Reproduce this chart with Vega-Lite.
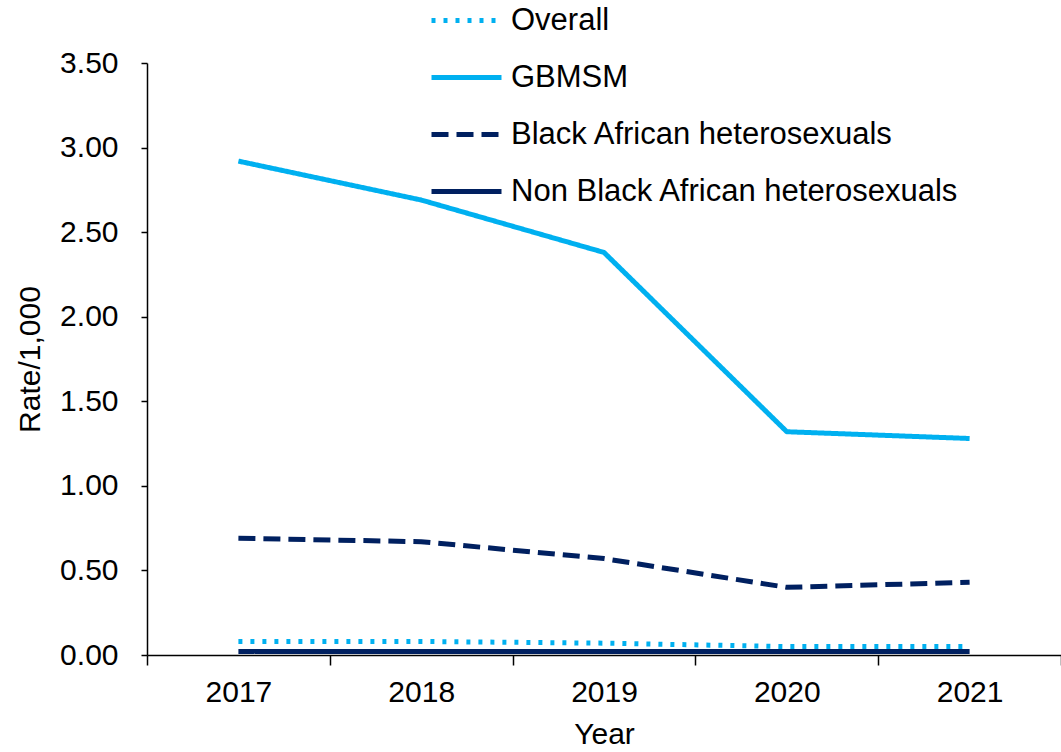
{
  "$schema": "https://vega.github.io/schema/vega-lite/v6.json",
  "autosize": {"type": "none"},
  "width": 914,
  "height": 592,
  "padding": {"left": 147, "top": 63, "right": 0, "bottom": 97},
  "background": "white",
  "config": {
    "font": "Liberation Sans",
    "view": {"stroke": null},
    "axis": {"grid": false, "domainColor": "#000000", "tickColor": "#000000", "labelColor": "#000000", "titleColor": "#000000", "labelFont": "Liberation Sans", "titleFont": "Liberation Sans", "titleFontWeight": "normal", "labelFontSize": 30, "titleFontSize": 30, "domainWidth": 1.5, "tickWidth": 1.5}
  },
  "data": {
    "values": [
      {"year": "2017", "series": "Overall", "rate": 0.08},
      {"year": "2018", "series": "Overall", "rate": 0.08},
      {"year": "2019", "series": "Overall", "rate": 0.07},
      {"year": "2020", "series": "Overall", "rate": 0.05},
      {"year": "2021", "series": "Overall", "rate": 0.05},
      {"year": "2017", "series": "GBMSM", "rate": 2.92},
      {"year": "2018", "series": "GBMSM", "rate": 2.69},
      {"year": "2019", "series": "GBMSM", "rate": 2.38},
      {"year": "2020", "series": "GBMSM", "rate": 1.32},
      {"year": "2021", "series": "GBMSM", "rate": 1.28},
      {"year": "2017", "series": "Black African heterosexuals", "rate": 0.69},
      {"year": "2018", "series": "Black African heterosexuals", "rate": 0.67},
      {"year": "2019", "series": "Black African heterosexuals", "rate": 0.57},
      {"year": "2020", "series": "Black African heterosexuals", "rate": 0.40},
      {"year": "2021", "series": "Black African heterosexuals", "rate": 0.43},
      {"year": "2017", "series": "Non Black African heterosexuals", "rate": 0.02},
      {"year": "2018", "series": "Non Black African heterosexuals", "rate": 0.02},
      {"year": "2019", "series": "Non Black African heterosexuals", "rate": 0.02},
      {"year": "2020", "series": "Non Black African heterosexuals", "rate": 0.02},
      {"year": "2021", "series": "Non Black African heterosexuals", "rate": 0.02}
    ]
  },
  "mark": {"type": "line", "strokeWidth": 5, "strokeCap": "butt", "strokeJoin": "round"},
  "encoding": {
    "x": {
      "field": "year", "type": "ordinal",
      "scale": {"type": "band", "paddingInner": 0, "paddingOuter": 0},
      "axis": {"title": "Year", "labelAngle": 0, "tickBand": "extent", "tickSize": 10, "labelPadding": 12, "titlePadding": 12}
    },
    "y": {
      "field": "rate", "type": "quantitative",
      "scale": {"domain": [0, 3.5], "nice": false},
      "axis": {"title": "Rate/1,000", "values": [0, 0.5, 1, 1.5, 2, 2.5, 3, 3.5], "format": ".2f", "tickSize": 6, "labelPadding": 23, "titlePadding": 14}
    },
    "color": {
      "field": "series", "type": "nominal",
      "scale": {"domain": ["Overall", "GBMSM", "Black African heterosexuals", "Non Black African heterosexuals"], "range": ["#00B0F0", "#00B0F0", "#002060", "#002060"]},
      "legend": {"title": null, "orient": "none", "legendX": 282, "legendY": -80, "symbolType": "stroke", "symbolSize": 4900, "symbolStrokeWidth": 5, "labelFontSize": 31, "labelColor": "#000000", "labelFont": "Liberation Sans", "rowPadding": 4, "labelOffset": 7, "padding": 0, "labelLimit": 700}
    },
    "strokeDash": {
      "field": "series", "type": "nominal",
      "scale": {"domain": ["Overall", "GBMSM", "Black African heterosexuals", "Non Black African heterosexuals"], "range": [[4, 8], [1, 0], [17, 8], [1, 0]]},
      "legend": {"title": null, "orient": "none", "legendX": 282, "legendY": -80, "symbolType": "stroke", "symbolSize": 4900, "symbolStrokeWidth": 5, "labelFontSize": 31, "labelColor": "#000000", "labelFont": "Liberation Sans", "rowPadding": 4, "labelOffset": 7, "padding": 0, "labelLimit": 700}
    }
  }
}
